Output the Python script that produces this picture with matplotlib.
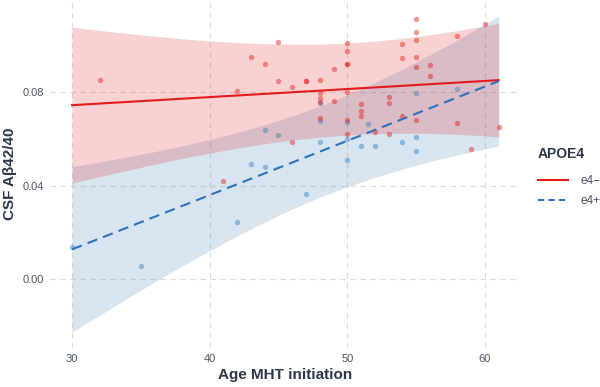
import matplotlib
matplotlib.use('Agg')
import matplotlib.pyplot as plt
from matplotlib.lines import Line2D

plt.rcParams['font.family'] = ['Liberation Sans', 'DejaVu Sans']

# points
red_age = [32, 41, 42, 43, 44, 45, 45, 46, 46, 47, 47, 48, 48, 48, 48, 48,
           49, 49, 50, 50, 50, 50, 50, 50, 50, 51, 51, 51, 52, 53, 53, 53,
           54, 54, 54, 55, 55, 55, 55, 55, 55, 56, 56, 58, 58, 59, 60, 61]
red_ab = [0.0850, 0.0421, 0.0806, 0.0951, 0.0921, 0.1013, 0.0846, 0.0821, 0.0586,
          0.0846, 0.0846, 0.0850, 0.0794, 0.0776, 0.0756, 0.0690,
          0.0898, 0.0763, 0.1011, 0.0977, 0.0921, 0.0921, 0.0801, 0.0680, 0.0619,
          0.0747, 0.0719, 0.0696, 0.0629, 0.0781, 0.0752, 0.0620,
          0.1004, 0.0945, 0.0696, 0.1114, 0.1058, 0.1024, 0.0948, 0.0908, 0.0682,
          0.0914, 0.0867, 0.1040, 0.0666, 0.0555, 0.1090, 0.0652]

blue_age = [30, 35, 42, 43, 44, 44, 45, 47, 48, 48, 48, 50, 50, 50, 51, 51.5,
            52, 54, 55, 55, 55, 58]
blue_ab = [0.0138, 0.0056, 0.0243, 0.0493, 0.0636, 0.0479, 0.0616, 0.0362,
           0.0752, 0.0677, 0.0586, 0.0673, 0.0598, 0.0510, 0.0570, 0.0664,
           0.0569, 0.0587, 0.0797, 0.0606, 0.0548, 0.0814]

# fitted lines and confidence bands
fit_age = [30, 61]
red_fit = [0.0744, 0.0851]
blue_fit = [0.0127, 0.0847]

band_age = [30, 32, 34, 36, 38, 40, 42, 44, 46, 48, 50, 52, 54, 56, 58, 60, 61]
red_lo = [0.0410, 0.0438, 0.0465, 0.0491, 0.0516, 0.0539, 0.0560, 0.0579, 0.0595,
          0.0607, 0.0616, 0.0622, 0.0624, 0.0623, 0.0619, 0.0613, 0.0608]
red_hi = [0.1078, 0.1064, 0.1051, 0.1039, 0.1028, 0.1019, 0.1012, 0.1007, 0.1005,
          0.1005, 0.1010, 0.1018, 0.1030, 0.1045, 0.1063, 0.1083, 0.1094]
blue_lo = [-0.0227, -0.0155, -0.0083, -0.0013, 0.0056, 0.0121, 0.0185, 0.0244, 0.0300,
           0.0350, 0.0395, 0.0435, 0.0470, 0.0503, 0.0531, 0.0557, 0.0569]
blue_hi = [0.0481, 0.0501, 0.0523, 0.0545, 0.0570, 0.0597, 0.0627, 0.0660, 0.0698,
           0.0740, 0.0789, 0.0841, 0.0898, 0.0959, 0.1023, 0.1091, 0.1125]

RED = '#E41A1C'
BLUE = '#377EB8'
BLUE_LINE = '#2C72BC'
TEXT = '#2B3648'
TICK = '#4A5568'

fig = plt.figure(figsize=(6, 3.87), dpi=100)
ax = fig.add_axes([0.0833, 0.1008, 0.7834, 0.8992])

ax.fill_between(band_age, blue_lo, blue_hi, color=BLUE, alpha=0.2, linewidth=0)
ax.fill_between(band_age, red_lo, red_hi, color=RED, alpha=0.2, linewidth=0)

ax.scatter(blue_age, blue_ab, s=15, color=BLUE, alpha=0.45, linewidths=0, zorder=3)
ax.scatter(red_age, red_ab, s=15, color=RED, alpha=0.45, linewidths=0, zorder=3)

ax.plot(fit_age, red_fit, color=RED, lw=1.5, zorder=4)
ax.plot(fit_age, blue_fit, color=BLUE_LINE, lw=1.5, ls=(0, (5, 3)), zorder=4)

ax.set_xlim(28.4, 62.55)
ax.set_ylim(-0.0295, 0.1194)
ax.set_xticks([30, 40, 50, 60])
ax.set_yticks([0.00, 0.04, 0.08])
ax.set_yticklabels(['0.00', '0.04', '0.08'])
ax.grid(True, color='#DDDDDD', ls=(0, (5, 4)), lw=0.8)
ax.set_axisbelow(True)
for s in ax.spines.values():
    s.set_visible(False)
ax.tick_params(length=0, labelsize=8, labelcolor=TICK, pad=4.5)

ax.set_xlabel('Age MHT initiation', fontsize=11, fontweight='bold', color=TEXT, labelpad=3)
ax.set_ylabel('CSF Aβ42/40', fontsize=11, fontweight='bold', color=TEXT, labelpad=4)

handles = [Line2D([], [], color=RED, lw=1.5),
           Line2D([], [], color=BLUE_LINE, lw=1.5, ls=(0, (3, 2)))]
leg = fig.legend(handles, ['e4−', 'e4+'], title='APOE4', loc='upper left',
                 bbox_to_anchor=(538 / 600, 1 - 147 / 387), frameon=False,
                 fontsize=8.5, handlelength=2.5, labelspacing=0.7,
                 handletextpad=1.1, borderpad=0, borderaxespad=0,
                 labelcolor=TICK)
leg.get_title().set_fontweight('bold')
leg.get_title().set_fontsize(10)
leg.get_title().set_color(TEXT)
leg._legend_box.align = 'left'
leg._legend_box.sep = 10

fig.savefig('out.png', dpi=100)
